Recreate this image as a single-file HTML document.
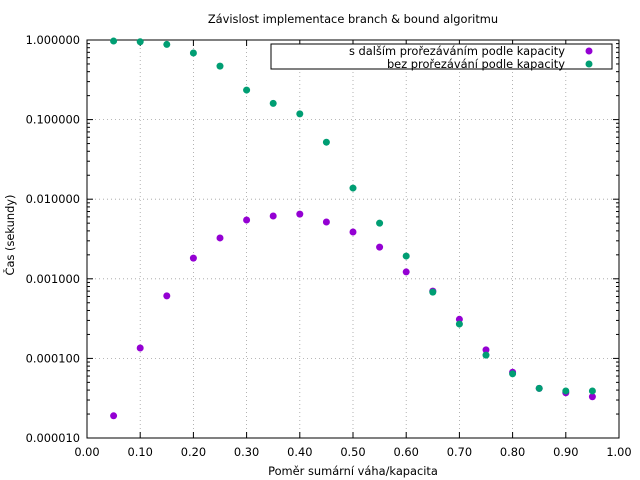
<!DOCTYPE html>
<html><head><meta charset="utf-8"><style>
body{margin:0;background:#fff;}
svg{display:block;font-family:"DejaVu Sans","Liberation Sans",sans-serif;}
</style></head><body>
<svg id="chart" width="640" height="480" viewBox="0 0 640 480"></svg>
<script>
const xs = [0.05,0.10,0.15,0.20,0.25,0.30,0.35,0.40,0.45,0.50,0.55,0.60,0.65,0.70,0.75,0.80,0.85,0.90,0.95];
const seriesPruned = [1.9e-5,1.35e-4,6.1e-4,1.82e-3,3.26e-3,5.48e-3,6.15e-3,6.5e-3,5.17e-3,3.87e-3,2.5e-3,1.22e-3,7.0e-4,3.1e-4,1.28e-4,6.7e-5,4.2e-5,3.7e-5,3.3e-5];
const seriesNoPrune = [0.97,0.95,0.88,0.687,0.47,0.235,0.16,0.118,0.052,0.0138,5.0e-3,1.93e-3,6.8e-4,2.7e-4,1.1e-4,6.4e-5,4.2e-5,3.9e-5,3.9e-5];
const xTicks = [0,0.1,0.2,0.3,0.4,0.5,0.6,0.7,0.8,0.9,1.0];
const xTickLabels = ["0.00","0.10","0.20","0.30","0.40","0.50","0.60","0.70","0.80","0.90","1.00"];
const yTicks = [1,0.1,0.01,0.001,0.0001,0.00001];
const yTickLabels = ["1.000000","0.100000","0.010000","0.001000","0.000100","0.000010"];

const L=87,R=619,T=40,B=438;
const FS=11.4;
const sx=v=>L+(v-0)/(1-0)*(R-L);
const sy=v=>B-(Math.log10(v)+5)/5*(B-T);
const svg=document.getElementById('chart');
const NS='http://www.w3.org/2000/svg';
function mk(tag,attrs,parent){const e=document.createElementNS(NS,tag);for(const k in attrs)e.setAttribute(k,attrs[k]);(parent||svg).appendChild(e);return e;}
function txt(x,y,s,anchor,name,extra){const t=mk('text',Object.assign({x:x,y:y,'font-size':FS,'text-anchor':anchor,fill:'#000'},extra||{}));t.textContent=s;return t;}

xTicks.forEach((v,i)=>{const x=sx(v);
 if(i>0&&i<xTicks.length-1){const g=mk('line',{x1:x,x2:x,y1:T,y2:B,stroke:'#a0a0a0','stroke-width':0.8,'stroke-dasharray':'1,3'});}
 const t1=mk('line',{x1:x,x2:x,y1:B,y2:B-6,stroke:'#000'});
 const t2=mk('line',{x1:x,x2:x,y1:T,y2:T+6,stroke:'#000'});
 txt(x,456,xTickLabels[i],'middle','x-tick-label');
});
yTicks.forEach((v,i)=>{const y=sy(v);
 if(i>0&&i<yTicks.length-1){const g=mk('line',{x1:L,x2:R,y1:y,y2:y,stroke:'#a0a0a0','stroke-width':0.8,'stroke-dasharray':'1,3'});}
 const t1=mk('line',{x1:L,x2:L+6,y1:y,y2:y,stroke:'#000'});
 const t2=mk('line',{x1:R,x2:R-6,y1:y,y2:y,stroke:'#000'});
 txt(80,y+4,yTickLabels[i],'end','y-tick-label');
 if(i<yTicks.length-1){for(let k=2;k<10;k++){const yy=sy(v/10*k);
  const m1=mk('line',{x1:L,x2:L+3,y1:yy,y2:yy,stroke:'#000'});
  const m2=mk('line',{x1:R,x2:R-3,y1:yy,y2:yy,stroke:'#000'});}}
});
const frame=mk('rect',{x:L,y:T,width:R-L,height:B-T,fill:'none',stroke:'#000'});


txt(353,23,'Závislost implementace branch & bound algoritmu','middle','chart-title');
txt(353,475,'Poměr sumární váha/kapacita','middle','x-axis-title');
txt(14,235,'Čas (sekundy)','middle','y-axis-title',{transform:'rotate(-90 14 235)'});

xs.forEach((x,i)=>{const c=mk('circle',{cx:sx(x),cy:sy(seriesPruned[i]),r:3.5,fill:'#9400d3'});});
xs.forEach((x,i)=>{const c=mk('circle',{cx:sx(x),cy:sy(seriesNoPrune[i]),r:3.5,fill:'#009e73'});});

const lg=mk('rect',{x:271,y:44,width:341,height:25,fill:'#fff',stroke:'#000'});
txt(565,55,'s dalším prořezáváním podle kapacity','end','legend-label-pruned');
txt(565,68,'bez prořezávání podle kapacity','end','legend-label-no-prune');
const l1=mk('circle',{cx:589,cy:51,r:3.5,fill:'#9400d3'});
const l2=mk('circle',{cx:589,cy:64,r:3.5,fill:'#009e73'});
</script>
</body></html>
